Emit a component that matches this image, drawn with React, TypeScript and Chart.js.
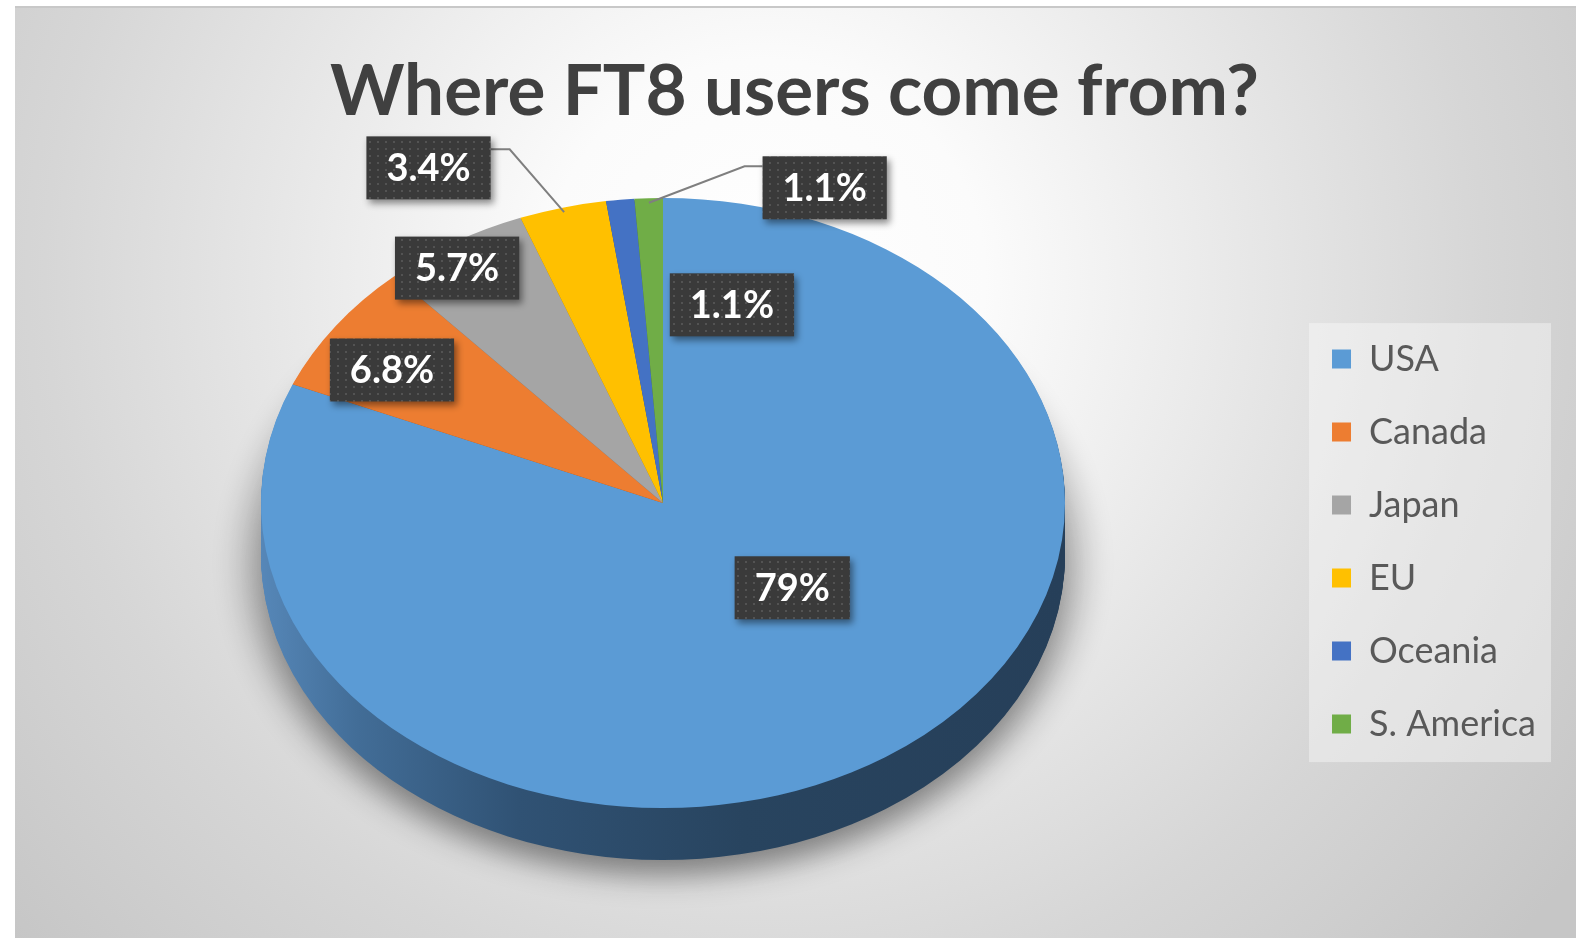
import React, { useEffect, useRef } from "react";
import { Chart, registerables } from "chart.js";

Chart.register(...registerables);

// ---------- data ----------
const categories = ["USA", "Canada", "Japan", "EU", "Oceania", "S. America"];
const shares = [79, 6.8, 5.7, 3.4, 1.1, 1.1];
const sliceColors = ["#5b9bd5", "#ed7d31", "#a5a5a5", "#ffc000", "#4472c4", "#70ad47"];
const sideColors = ["#2b4866", "#9c5220", "#6b6b6b", "#a67d00", "#2c4a80", "#49702e"];
const chartTitle = "Where FT8 users come from?";

// ---------- layout ----------
const FRAME_W = 1561;
const FRAME_H = 932;
const PIE = { cx: 648, cy: 497, rx: 402, ry: 305, depth: 52 };
// label placement: distance as fraction of radius, angular turn (deg) from slice middle
const LABEL_PLACE = [
  { dist: 0.425, turn: -15.6, leader: false },
  { dist: 0.803, turn: -2.6, leader: false },
  { dist: 0.925, turn: -2.3, leader: false },
  { dist: 1.244, turn: -13.5, leader: true },
  { dist: 0.672, turn: 20.9, leader: false },
  { dist: 1.109, turn: 23.3, leader: true },
];

let dotPattern: CanvasPattern | null = null;
function getPattern(ctx: CanvasRenderingContext2D) {
  if (dotPattern) return dotPattern;
  const c = document.createElement("canvas");
  c.width = 8;
  c.height = 7;
  const g = c.getContext("2d")!;
  g.fillStyle = "#3a3a3a";
  g.fillRect(0, 0, 8, 7);
  g.fillStyle = "#535353";
  g.fillRect(2, 2, 2, 2);
  dotPattern = ctx.createPattern(c, "repeat");
  return dotPattern;
}

const legendBg = {
  id: "legendBg",
  beforeDraw(chart: any) {
    const lg = chart.legend;
    if (!lg || !lg.legendHitBoxes || !lg.legendHitBoxes.length) return;
    const hb = lg.legendHitBoxes;
    const first = hb[0];
    const last = hb[hb.length - 1];
    let right = 0;
    let left = Infinity;
    hb.forEach((h: any) => {
      right = Math.max(right, h.left + h.width);
      left = Math.min(left, h.left);
    });
    const top = first.top + first.height / 2 - 36;
    const bottom = last.top + last.height / 2 + 38;
    const ctx = chart.ctx;
    ctx.save();
    ctx.fillStyle = "rgba(255,255,255,0.38)";
    ctx.fillRect(left - 23, top, right + 15 - (left - 23), bottom - top);
    ctx.restore();
  },
};

const pie3d = {
  id: "pie3d",
  beforeDatasetsDraw(chart: any) {
    const meta = chart.getDatasetMeta(0);
    const arcs = meta.data as any[];
    const ctx: CanvasRenderingContext2D = chart.ctx;
    ctx.save();
    if (!arcs.length) return;
    const r = arcs[0].outerRadius;
    const ox = arcs[0].x;
    const oy = arcs[0].y;
    const sx = PIE.rx / r;
    const sy = PIE.ry / r;

    // soft floor halo (shape drawn off-canvas, only its shadow lands here)
    ctx.save();
    ctx.shadowColor = "rgba(0,0,0,0.2)";
    ctx.shadowBlur = 28;
    ctx.shadowOffsetX = 5000;
    ctx.shadowOffsetY = 0;
    ctx.fillStyle = "#000";
    ctx.beginPath();
    ctx.ellipse(PIE.cx - 5000, PIE.cy + PIE.depth + 8, PIE.rx + 22, PIE.ry + 14, 0, 0, Math.PI * 2);
    ctx.fill();
    ctx.restore();

    ctx.save();
    ctx.shadowColor = "rgba(0,0,0,0.3)";
    ctx.shadowBlur = 26;
    ctx.shadowOffsetY = 14;
    ctx.fillStyle = sideColors[0];
    ctx.beginPath();
    ctx.ellipse(PIE.cx, PIE.cy + PIE.depth, PIE.rx - 4, PIE.ry - 4, 0, 0, Math.PI * 2);
    ctx.fill();
    ctx.restore();

    const grad = ctx.createLinearGradient(ox - r, 0, ox + r, 0);
    grad.addColorStop(0, "#5687b8");
    grad.addColorStop(0.12, "#426d97");
    grad.addColorStop(0.32, "#305274");
    grad.addColorStop(0.6, "#28445f");
    grad.addColorStop(1, "#263f59");

    for (let d = PIE.depth; d >= 1; d--) {
      ctx.save();
      ctx.translate(PIE.cx, PIE.cy + d);
      ctx.scale(sx, sy);
      ctx.translate(-ox, -oy);
      arcs.forEach((el: any, i: number) => {
        const saved = el.options;
        el.options = { ...saved, backgroundColor: i === 0 ? grad : sideColors[i], borderWidth: 0 };
        el.draw(ctx);
        el.options = saved;
      });
      ctx.restore();
    }
    ctx.translate(PIE.cx, PIE.cy);
    ctx.scale(sx, sy);
    ctx.translate(-ox, -oy);
  },
  afterDatasetsDraw(chart: any) {
    const ctx: CanvasRenderingContext2D = chart.ctx;
    ctx.restore();
    const arcs = chart.getDatasetMeta(0).data as any[];
    ctx.save();
    ctx.font = "bold 38px Lato";
    ctx.textAlign = "center";
    ctx.textBaseline = "middle";
    arcs.forEach((el: any, i: number) => {
      const mid = (el.startAngle + el.endAngle) / 2;
      const p = LABEL_PLACE[i];
      const a = mid + (p.turn * Math.PI) / 180;
      const x = PIE.cx + PIE.rx * p.dist * Math.cos(a);
      const y = PIE.cy + PIE.ry * p.dist * Math.sin(a);
      const text = `${shares[i]}%`;
      const w = ctx.measureText(text).width + 40;
      const h = 63;
      const l = x - w / 2;
      const t = y - h / 2;
      if (p.leader) {
        const ex = PIE.cx + PIE.rx * 0.985 * Math.cos(mid);
        const ey = PIE.cy + PIE.ry * 0.985 * Math.sin(mid);
        ctx.save();
        ctx.strokeStyle = "#7f7f7f";
        ctx.lineWidth = 2;
        ctx.beginPath();
        ctx.moveTo(ex, ey);
        if (x < ex) {
          ctx.lineTo(l + w + 19, t + 13);
          ctx.lineTo(l + w, t + 13);
        } else {
          ctx.lineTo(l - 18, t + 10);
          ctx.lineTo(l, t + 10);
        }
        ctx.stroke();
        ctx.restore();
      }
      ctx.save();
      ctx.shadowColor = "rgba(0,0,0,0.45)";
      ctx.shadowBlur = 7;
      ctx.shadowOffsetX = 3;
      ctx.shadowOffsetY = 4;
      ctx.fillStyle = getPattern(ctx) || "#3a3a3a";
      ctx.fillRect(l, t, w, h);
      ctx.restore();
      ctx.fillStyle = "#ffffff";
      ctx.fillText(text, x, y + 1);
    });
    ctx.restore();
  },
};

export default function App() {
  const ref = useRef<HTMLCanvasElement>(null);
  useEffect(() => {
    if (!ref.current) return;
    const chart = new Chart(ref.current, {
      type: "pie",
      data: {
        labels: categories,
        datasets: [
          {
            data: shares,
            backgroundColor: sliceColors,
            borderWidth: 0,
            clip: false as any,
          },
        ],
      },
      options: {
        responsive: false,
        animation: false,
        events: [],
        layout: { padding: { right: 30, bottom: 0, left: 28, top: 0 } },
        plugins: {
          tooltip: { enabled: false },
          title: {
            display: true,
            text: chartTitle,
            color: "#404040",
            font: { family: "Lato", size: 71, weight: "bold", lineHeight: 1.2 },
            padding: { top: 44, bottom: 10 },
          },
          legend: {
            display: true,
            position: "right",
            fullSize: false,
            align: "center",
            labels: {
              color: "#595959",
              font: { family: "Lato", size: 36 },
              boxWidth: 19,
              boxHeight: 19,
              padding: 37,
            },
          },
        },
      },
      plugins: [legendBg, pie3d],
    });
    return () => chart.destroy();
  }, []);

  return (
    <div
      style={{
        position: "absolute",
        left: 15,
        top: 6,
        width: FRAME_W,
        height: FRAME_H,
        background:
          "radial-gradient(circle 1000px at 750px 274px, #ffffff 0%, #fbfbfb 22%, #e6e6e6 50%, #d6d6d6 72%, #c6c6c6 100%)",
        boxShadow: "inset 0 2px 0 #c8c8c8",
      }}
    >
      <canvas ref={ref} width={FRAME_W} height={FRAME_H} style={{ display: "block" }} />
    </div>
  );
}
